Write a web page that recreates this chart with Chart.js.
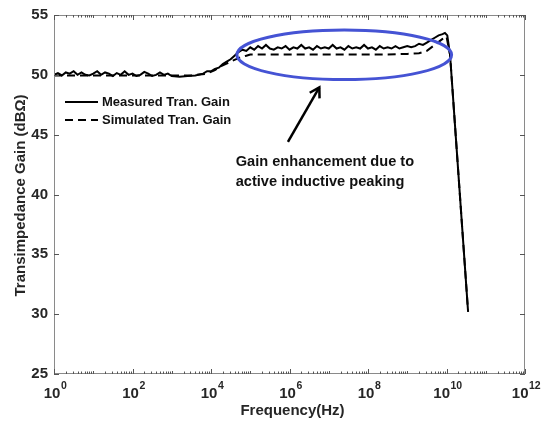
<!DOCTYPE html>
<html>
<head>
<meta charset="utf-8">
<script src="https://cdn.jsdelivr.net/npm/chart.js@4.4.1/dist/chart.umd.min.js"></script>
<style>
html,body{margin:0;padding:0;background:#fff;}
#wrap{width:546px;height:426px;}
</style>
</head>
<body>
<div id="wrap"><canvas id="c" width="546" height="426"></canvas></div>
<script>
// ---- data (frequency given as log10 exponent, gain in dBOhm) ----
const measExp = [0.0,0.1,0.2,0.3,0.4,0.5,0.6,0.7,0.8,0.9,1.0,1.1,1.2,1.3,1.4,1.5,1.6,1.7,1.8,1.9,2.0,2.1,2.2,2.3,2.4,2.5,2.6,2.7,2.8,2.9,3.0,3.2,3.4,3.6,3.8,3.9,4.0,4.1,4.2,4.3,4.4,4.5,4.6,4.7,4.8,4.9,5.0,5.1,5.2,5.3,5.4,5.5,5.6,5.7,5.8,5.9,6.0,6.1,6.2,6.3,6.4,6.5,6.6,6.7,6.8,6.9,7.0,7.1,7.2,7.3,7.4,7.5,7.6,7.7,7.8,7.9,8.0,8.1,8.2,8.3,8.4,8.5,8.6,8.7,8.8,8.9,9.0,9.1,9.2,9.3,9.4,9.5,9.6,9.7,9.8,9.9,9.96,10.02,10.09,10.55];
const measGain = [50.0,50.15,49.95,50.2,50.1,50.3,50.0,50.2,50.0,49.95,50.1,50.3,50.0,50.2,50.1,49.9,50.15,50.0,50.3,50.0,50.1,49.9,50.0,50.25,50.1,49.9,50.0,50.2,50.0,50.1,49.9,49.85,49.9,49.95,50.1,50.3,50.3,50.5,50.6,50.9,51.1,51.3,51.6,51.9,52.1,52.0,52.3,52.1,52.4,52.2,52.5,52.2,52.1,52.3,52.2,52.4,52.1,52.3,52.2,52.5,52.2,52.3,52.1,52.4,52.2,52.3,52.2,52.5,52.2,52.3,52.1,52.4,52.2,52.3,52.2,52.5,52.2,52.3,52.1,52.4,52.2,52.3,52.2,52.4,52.2,52.3,52.4,52.3,52.4,52.6,52.5,52.7,52.9,53.1,53.3,53.4,53.5,53.3,51.7,30.2];
const simExp = [0.0,0.5,1.0,1.5,2.0,2.5,3.0,3.5,3.9,4.1,4.3,4.5,4.7,4.9,5.0,5.5,6.0,6.5,7.0,7.5,8.0,8.5,9.0,9.3,9.5,9.7,9.9,10.0,10.09,10.55];
const simGain = [49.95,49.95,49.95,49.95,49.95,49.95,49.95,49.95,50.1,50.4,50.8,51.1,51.4,51.6,51.7,51.7,51.7,51.7,51.7,51.7,51.7,51.7,51.75,51.8,52.0,52.5,53.0,53.2,51.7,30.2];
const xTickExp = [0,2,4,6,8,10,12];
const yTicks = [25,30,35,40,45,50,55];
const legendLabels = ['Measured Tran. Gain','Simulated Tran. Gain'];
const noteLines = ['Gain enhancement due to','active inductive peaking'];
const xTitle = 'Frequency(Hz)';
const yTitle = 'Transimpedance Gain (dB\u03A9)';

const FONT = "'Liberation Sans', Arial, Helvetica, sans-serif";

const toPts = (ex, g) => ex.map((e,i)=>({x: Math.pow(10,e), y: g[i]}));

const deco = {
  id:'deco',
  afterDraw(chart){
    const {ctx, chartArea:ca, scales:{x,y}} = chart;
    ctx.save();
    // box
    ctx.strokeStyle = '#8a8a8a';
    ctx.lineWidth = 1;
    ctx.strokeRect(Math.round(ca.left)+0.5, Math.round(ca.top)+0.5, Math.round(ca.right-ca.left)-1, Math.round(ca.bottom-ca.top)-1);
    // x ticks
    ctx.strokeStyle = '#555';
    const tick = (px, len) => {
      px = Math.round(px)+0.5;
      ctx.beginPath();
      ctx.moveTo(px, ca.bottom); ctx.lineTo(px, ca.bottom-len);
      ctx.moveTo(px, ca.top); ctx.lineTo(px, ca.top+len);
      ctx.stroke();
    };
    for(let n=0;n<=12;n++){
      tick(x.getPixelForValue(Math.pow(10,n)), n%2===0 ? 5 : 3);
      if(n<12) for(let k=2;k<=9;k++) tick(x.getPixelForValue(k*Math.pow(10,n)), 2.5);
    }
    // y ticks
    yTicks.forEach(v=>{
      const py = Math.round(y.getPixelForValue(v))+0.5;
      ctx.beginPath();
      ctx.moveTo(ca.left, py); ctx.lineTo(ca.left+5, py);
      ctx.moveTo(ca.right, py); ctx.lineTo(ca.right-5, py);
      ctx.stroke();
    });
    // x tick labels with superscript
    ctx.fillStyle = '#262626';
    ctx.textBaseline = 'alphabetic';
    xTickExp.forEach(e=>{
      const px = x.getPixelForValue(Math.pow(10,e));
      ctx.font = 'bold 15px '+FONT;
      const wb = ctx.measureText('10').width;
      ctx.font = 'bold 10.5px '+FONT;
      const ws = ctx.measureText(String(e)).width;
      const left = px - (wb+ws)/2 + 1;
      ctx.font = 'bold 15px '+FONT;
      ctx.textAlign = 'left';
      ctx.fillText('10', left, ca.bottom+24);
      ctx.font = 'bold 10.5px '+FONT;
      ctx.fillText(String(e), left+wb+0.5, ca.bottom+15);
    });
    // axis titles
    ctx.font = 'bold 15px '+FONT;
    ctx.textAlign = 'center';
    ctx.textBaseline = 'middle';
    ctx.fillText(xTitle, (ca.left+ca.right)/2+3, ca.bottom+37);
    ctx.save();
    ctx.translate(21, (ca.top+ca.bottom)/2+1);
    ctx.rotate(-Math.PI/2);
    ctx.fillText(yTitle, 0, 0);
    ctx.restore();
    // ellipse
    const exL = x.getPixelForValue(Math.pow(10,4.66)), exR = x.getPixelForValue(Math.pow(10,10.13));
    const eyT = y.getPixelForValue(53.75), eyB = y.getPixelForValue(49.6);
    ctx.strokeStyle = '#4553d4';
    ctx.lineWidth = 3;
    ctx.beginPath();
    ctx.ellipse((exL+exR)/2, (eyT+eyB)/2, (exR-exL)/2, (eyB-eyT)/2, 0, 0, Math.PI*2);
    ctx.stroke();
    // arrow
    const tx = x.getPixelForValue(Math.pow(10,5.96)), ty = y.getPixelForValue(44.4);
    const hx = x.getPixelForValue(Math.pow(10,6.76)), hy = y.getPixelForValue(48.95);
    ctx.strokeStyle = '#000';
    ctx.lineWidth = 2.5;
    ctx.beginPath(); ctx.moveTo(tx,ty); ctx.lineTo(hx,hy); ctx.stroke();
    const ang = Math.atan2(hy-ty, hx-tx);
    ctx.beginPath();
    ctx.moveTo(hx+11*Math.cos(ang+2.6), hy+11*Math.sin(ang+2.6));
    ctx.lineTo(hx, hy);
    ctx.lineTo(hx+11*Math.cos(ang-2.6), hy+11*Math.sin(ang-2.6));
    ctx.stroke();
    // note text
    ctx.fillStyle = '#111';
    ctx.font = 'bold 14.6px '+FONT;
    ctx.textAlign = 'left';
    ctx.textBaseline = 'alphabetic';
    const nx = x.getPixelForValue(Math.pow(10,4.63));
    ctx.fillText(noteLines[0], nx, y.getPixelForValue(42.35));
    ctx.fillText(noteLines[1], nx, y.getPixelForValue(40.7));
    // legend
    ctx.font = 'bold 13px '+FONT;
    ctx.textBaseline = 'middle';
    const lx = ca.left + 11;
    [0,1].forEach(i=>{
      const ly = ca.top + 87 + i*18;
      ctx.strokeStyle = '#000';
      ctx.lineWidth = 2;
      ctx.setLineDash(i===0 ? [] : [8,5]);
      ctx.beginPath(); ctx.moveTo(lx, ly); ctx.lineTo(lx+33, ly); ctx.stroke();
      ctx.setLineDash([]);
      ctx.fillText(legendLabels[i], lx+37, ly);
    });
    ctx.restore();
  }
};

new Chart(document.getElementById('c'), {
  type:'line',
  data:{
    datasets:[
      {label:legendLabels[0], data: toPts(measExp, measGain), borderColor:'#000', borderWidth:2, pointRadius:0, tension:0, fill:false},
      {label:legendLabels[1], data: toPts(simExp, simGain), borderColor:'#000', borderWidth:2, borderDash:[8,5], pointRadius:0, tension:0, fill:false}
    ]
  },
  options:{
    responsive:false,
    animation:false,
    devicePixelRatio:1,
    layout:{padding:{left:0,right:21,top:13,bottom:0}},
    plugins:{legend:{display:false}, tooltip:{enabled:false}},
    scales:{
      x:{type:'logarithmic', min:1, max:1e12,
         grid:{display:false, tickLength:0}, border:{display:false},
         ticks:{display:false},
         afterFit(s){ s.height = 52; }},
      y:{type:'linear', min:25, max:55,
         grid:{display:false, tickLength:0, drawTicks:false}, border:{display:false},
         ticks:{stepSize:5, padding:6, color:'#262626', font:{family:FONT, size:15, weight:'bold'}},
         afterFit(s){ s.width = 54; }}
    }
  },
  plugins:[deco]
});
</script>
</body>
</html>
